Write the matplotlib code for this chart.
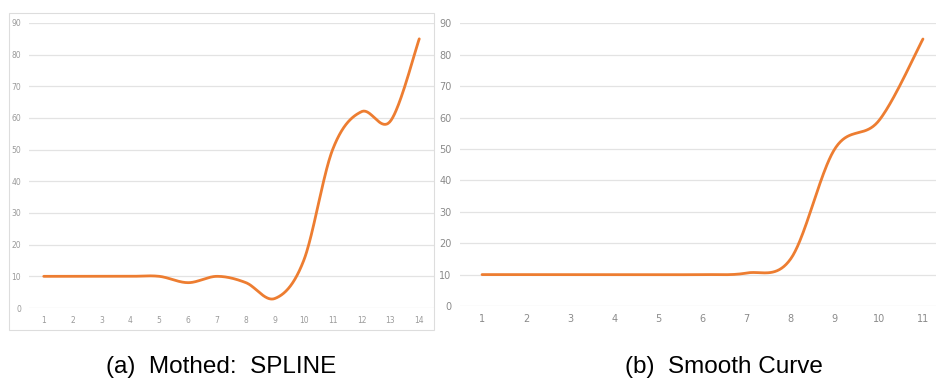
import matplotlib
matplotlib.use("Agg")
import matplotlib.pyplot as plt
import numpy as np
from matplotlib.patches import Rectangle

# data
x_a = list(range(1, 15))
y_a = [10, 10, 10, 10, 10, 8, 10, 8, 3, 15, 50, 62, 59, 85]
x_b = list(range(1, 12))
y_b = [10, 10, 10, 10, 10, 10, 10.5, 15, 50, 59, 85]
y_ticks = [0, 10, 20, 30, 40, 50, 60, 70, 80, 90]
captions = ["(a)  Mothed:  SPLINE", "(b)  Smooth Curve"]

orange = "#ed7d31"
grid_c = "#e3e3e3"


# Excel-like smoothed line: Catmull-Rom segments drawn as cubic Beziers
def smooth(xs, ys, n=40):
    p = np.column_stack([xs, ys]).astype(float)
    p = np.vstack([p[0], p, p[-1]])
    out = []
    t = np.linspace(0, 1, n)[:, None]
    for i in range(1, len(p) - 2):
        p0, p3 = p[i], p[i + 1]
        b1 = p0 + (p[i + 1] - p[i - 1]) / 6
        b2 = p3 - (p[i + 2] - p[i]) / 6
        seg = ((1 - t) ** 3) * p0 + 3 * ((1 - t) ** 2) * t * b1 + 3 * (1 - t) * t ** 2 * b2 + t ** 3 * p3
        out.append(seg)
    out = np.vstack(out)
    return out[:, 0], out[:, 1]


W, H = 936, 378
fig = plt.figure(figsize=(W / 100, H / 100), dpi=100)

# panel (a) frame
fig.patches.append(Rectangle((9 / W, 1 - 330 / H), 425 / W, 317 / H, transform=fig.transFigure,
                             fill=False, edgecolor="#dddddd", lw=0.8))

ax1 = fig.add_axes([29.3 / W, 1 - 308 / H, 404.4 / W, 285 / H])
ax2 = fig.add_axes([460 / W, 1 - 306 / H, 485 / W, 282.7 / H])


def style(ax, xs, ys, fs, tc):
    sx, sy = smooth(xs, ys)
    ax.plot(sx, sy, color=orange, lw=2.0, solid_capstyle="round", zorder=3)
    ax.set_xlim(0.5, len(xs) + 0.5)
    ax.set_ylim(0, 90)
    ax.set_yticks(y_ticks)
    ax.set_xticks(xs)
    ax.set_xticklabels([str(v) for v in xs])
    for s in ax.spines.values():
        s.set_visible(False)
    ax.grid(axis="y", color=grid_c, lw=0.9)
    ax.set_axisbelow(True)
    ax.tick_params(length=0, labelsize=fs, labelcolor=tc, pad=6)
    ax.patch.set_alpha(0)


style(ax1, x_a, y_a, 5.5, "#9a9a9a")
style(ax2, x_b, y_b, 7, "#8a8a8a")

fig.text(221.5 / W, 1 - 367 / H, captions[0], ha="center", va="center",
         fontsize=17.5, family="Liberation Sans", color="black")
fig.text(723.5 / W, 1 - 367 / H, captions[1], ha="center", va="center",
         fontsize=17.5, family="Liberation Sans", color="black")

fig.savefig("out.png", dpi=100)
